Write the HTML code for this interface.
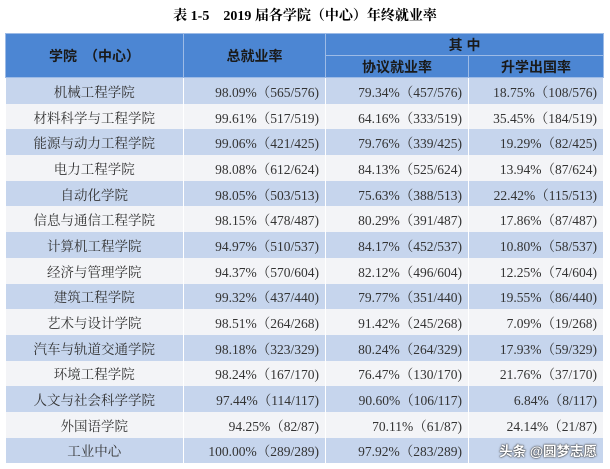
<!DOCTYPE html>
<html><head><meta charset="utf-8"><style>
body{margin:0;width:610px;height:469px;background:#fff;overflow:hidden;font-family:"Liberation Serif","Noto Serif CJK SC",serif;}
.t{position:absolute;top:5px;left:0;width:610px;text-align:center;font-size:14px;font-weight:bold;font-family:"Liberation Serif","Noto Serif CJK SC",serif;}
table{position:absolute;left:5px;top:33px;border-collapse:collapse;table-layout:fixed;width:598px;}
th{background:#4c86d3;color:#1a1a1a;font-family:"Liberation Sans","Noto Sans CJK SC",sans-serif;font-size:14px;font-weight:bold;border:1px solid #9dbbe6;padding:0;}
td{height:25.7px;padding:0;font-size:13.5px;color:#333;border-right:1px solid #fff;text-align:center;white-space:nowrap;}
tr.o td{background:#c6d5ed;}
tr.e td{background:#f3f4f7;}
td.n{text-align:right;padding-right:6px;}
.wm{color:#fff;font-weight:bold;font-family:"Liberation Sans","Noto Sans CJK SC",sans-serif;text-shadow:0 0 2px #333,0 0 1px #000;}
</style></head><body>
<div class="t">表 1-5　2019 届各学院（中心）年终就业率</div>
<table>
<colgroup><col style="width:178px"><col style="width:142px"><col style="width:143px"><col style="width:135px"></colgroup>
<tr style="height:22px"><th rowspan="2">学院　（中心）</th><th rowspan="2">总就业率</th><th colspan="2">其 中</th></tr>
<tr style="height:22px"><th>协议就业率</th><th>升学出国率</th></tr>
<tr class="o"><td>机械工程学院</td><td class="n">98.09%（565/576)</td><td class="n">79.34%（457/576)</td><td class="n">18.75%（108/576)</td></tr>
<tr class="e"><td>材料科学与工程学院</td><td class="n">99.61%（517/519)</td><td class="n">64.16%（333/519)</td><td class="n">35.45%（184/519)</td></tr>
<tr class="o"><td>能源与动力工程学院</td><td class="n">99.06%（421/425)</td><td class="n">79.76%（339/425)</td><td class="n">19.29%（82/425)</td></tr>
<tr class="e"><td>电力工程学院</td><td class="n">98.08%（612/624)</td><td class="n">84.13%（525/624)</td><td class="n">13.94%（87/624)</td></tr>
<tr class="o"><td>自动化学院</td><td class="n">98.05%（503/513)</td><td class="n">75.63%（388/513)</td><td class="n">22.42%（115/513)</td></tr>
<tr class="e"><td>信息与通信工程学院</td><td class="n">98.15%（478/487)</td><td class="n">80.29%（391/487)</td><td class="n">17.86%（87/487)</td></tr>
<tr class="o"><td>计算机工程学院</td><td class="n">94.97%（510/537)</td><td class="n">84.17%（452/537)</td><td class="n">10.80%（58/537)</td></tr>
<tr class="e"><td>经济与管理学院</td><td class="n">94.37%（570/604)</td><td class="n">82.12%（496/604)</td><td class="n">12.25%（74/604)</td></tr>
<tr class="o"><td>建筑工程学院</td><td class="n">99.32%（437/440)</td><td class="n">79.77%（351/440)</td><td class="n">19.55%（86/440)</td></tr>
<tr class="e"><td>艺术与设计学院</td><td class="n">98.51%（264/268)</td><td class="n">91.42%（245/268)</td><td class="n">7.09%（19/268)</td></tr>
<tr class="o"><td>汽车与轨道交通学院</td><td class="n">98.18%（323/329)</td><td class="n">80.24%（264/329)</td><td class="n">17.93%（59/329)</td></tr>
<tr class="e"><td>环境工程学院</td><td class="n">98.24%（167/170)</td><td class="n">76.47%（130/170)</td><td class="n">21.76%（37/170)</td></tr>
<tr class="o"><td>人文与社会科学学院</td><td class="n">97.44%（114/117)</td><td class="n">90.60%（106/117)</td><td class="n">6.84%（8/117)</td></tr>
<tr class="e"><td>外国语学院</td><td class="n">94.25%（82/87)</td><td class="n">70.11%（61/87)</td><td class="n">24.14%（21/87)</td></tr>
<tr class="o"><td>工业中心</td><td class="n">100.00%（289/289)</td><td class="n">97.92%（283/289)</td><td class="n"><span class="wm">头条 @圆梦志愿</span></td></tr>
</table>
</body></html>
